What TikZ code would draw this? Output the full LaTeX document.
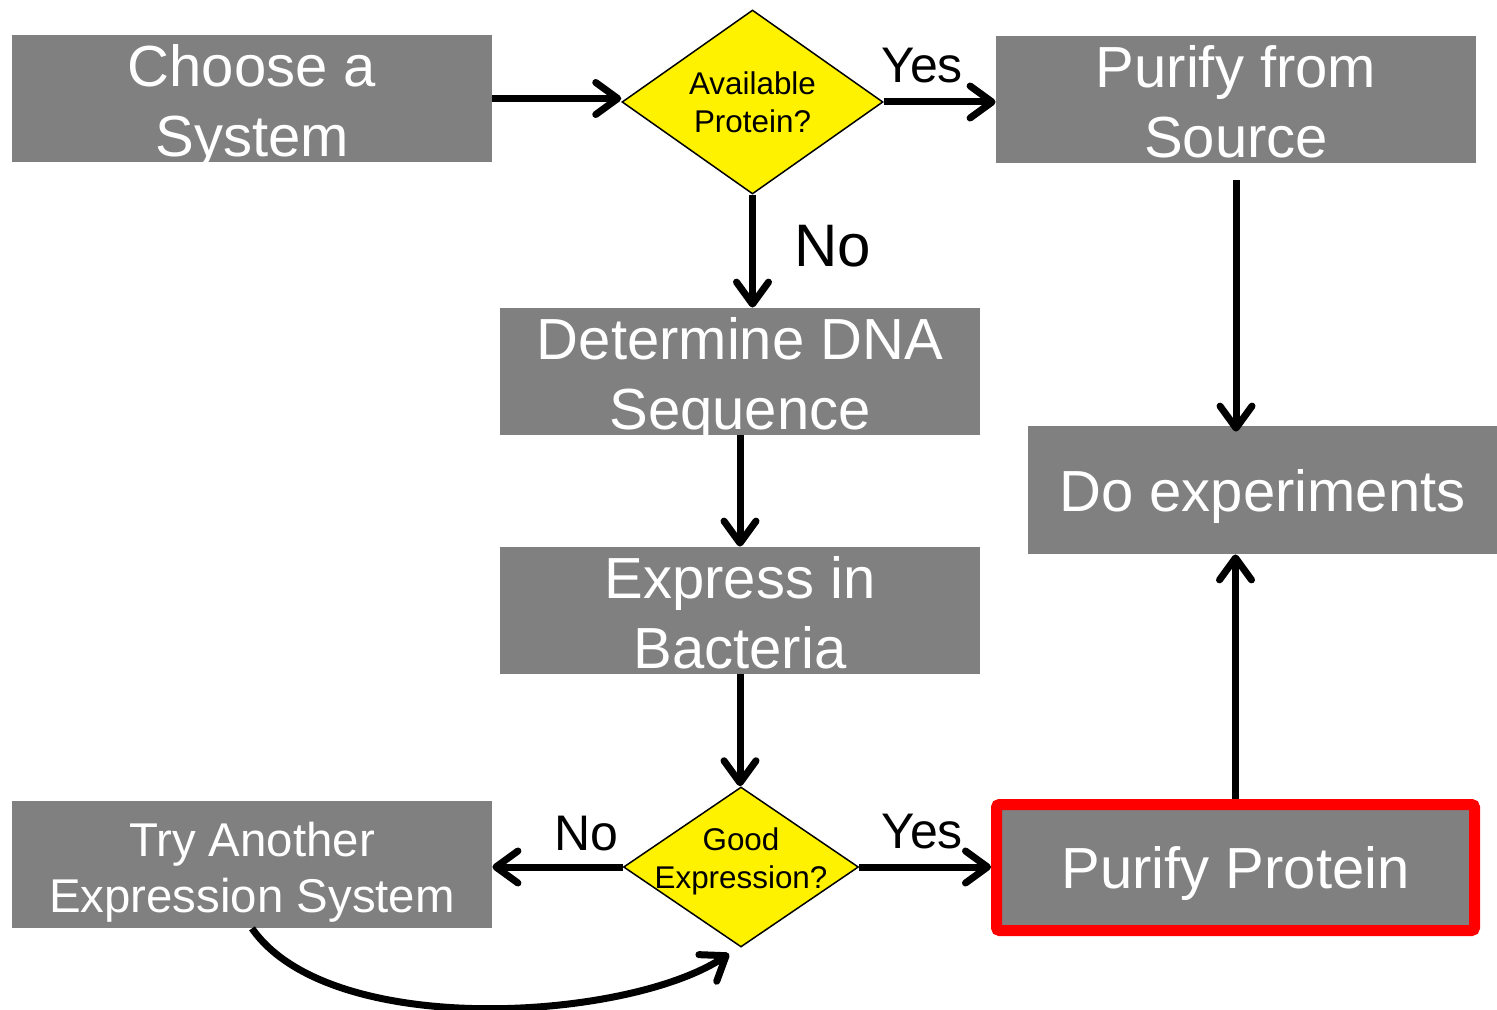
\documentclass[tikz,border=0pt]{standalone}
\usepackage{fontspec}
\setmainfont{Liberation Sans}
\usetikzlibrary{positioning}
\usetikzlibrary{shapes.geometric}
\usetikzlibrary{arrows.meta}

\definecolor{boxgray}{RGB}{128,128,128}
\newcommand\txtstrut[2]{\rule[-#2]{0pt}{\dimexpr#1+#2\relax}}

\tikzset{
  procbox/.style={fill=boxgray, text=white, inner sep=0pt, align=center,
    minimum width=240pt, minimum height=63.5pt,
    font=\fontsize{29pt}{35pt}\selectfont,
    execute at begin node={\txtstrut{30pt}{9pt}},
    execute at end node={\txtstrut{30pt}{9pt}}},
  smallbox/.style={procbox, font=\fontsize{23.7pt}{28pt}\selectfont},
  twoline/.style 2 args={execute at begin node={}, execute at end node={},
    text height=#1, text depth=#2},
  decision/.style={diamond, draw=black, fill=yellow, line width=0.75pt,
    inner sep=-25pt, align=center,
    font=\fontsize{15.7pt}{19pt}\selectfont},
  answer/.style={inner sep=0pt, font=\fontsize{25pt}{30pt}\selectfont,
    execute at begin node={\txtstrut{24pt}{6pt}}},
  flow/.style={line width=3.5pt, -{Straight Barb[length=11pt,width=16pt,round]}}
}

\begin{document}
\begin{tikzpicture}[x=0.5pt, y=-0.5pt]
  \useasboundingbox (0,0) rectangle (1497,1010);

  \node [procbox, twoline={60.75pt}{2.75pt}, name=choose] at (252,98.5) {Choose a\\System};
  \node [procbox, twoline={60.75pt}{2.75pt}, name=source] at (1236,99.5) {Purify from\\Source};
  \node [decision, twoline={31pt}{0pt}, name=avail, minimum width=130.5pt, minimum height=92pt]
    at (752.5,102) {Available\\Protein?};
  \node [procbox, twoline={60.75pt}{2.75pt}, name=determine] at (740,371.5) {Determine DNA\\Sequence};
  \node [procbox, twoline={60.75pt}{2.75pt}, name=express] at (740,610.5) {Express in\\Bacteria};
  \node [procbox, name=doexp, minimum width=234.5pt, minimum height=64pt]
    at (1262.5,490) {Do experiments};
  \node [smallbox, twoline={55.5pt}{8pt}, name=tryother] at (252,864.5) {Try Another\\Expression System};
  \node [decision, twoline={21pt}{0pt}, name=good, minimum width=117.5pt, minimum height=80pt]
    at (741,867) {Good\\Expression?};
  \node [procbox, name=protein, draw=red, line width=5.5pt, rounded corners=1.5pt,
    minimum width=239pt, minimum height=63pt] at (1235.5,867.5) {Purify Protein};

  \node [answer, name=yesavail] at (922,65) {Yes};
  \node [answer, name=noavail, font=\fontsize{30pt}{36pt}\selectfont,
    execute at begin node={\txtstrut{28pt}{6.5pt}}] at (833,245) {No};
  \node [answer, name=nogood] at (586,832) {No};
  \node [answer, name=yesgood] at (922,830) {Yes};

  \draw [flow] (choose.east) -- (choose.east -| avail.west);
  \draw [flow] (avail.east) -- (avail.east -| source.west);
  \draw [flow] (avail.south) -- (avail.south |- determine.north);
  \draw [flow] (determine.south) -- (express.north);
  \draw [flow] (express.south) -- (express.south |- good.north);
  \draw [flow] (good.west) -- (good.west -| tryother.east);
  \draw [flow] (good.east) -- (good.east -| protein.west);
  \draw [flow] ([yshift=-8.5pt]source.south) -- ([yshift=-3pt]source.south |- doexp.north);
  \draw [flow] (protein.north) -- (protein.north |- doexp.south);
  \draw [flow] (tryother.south)
    .. controls +(78,112) and +(-100,67) .. ([shift={(-12,6)}]good.south);

\end{tikzpicture}
\end{document}
